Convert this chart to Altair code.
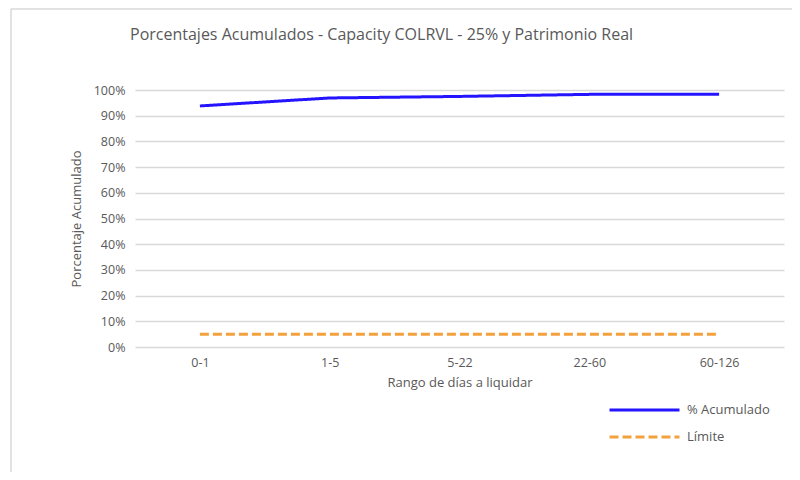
import altair as alt
import pandas as pd

categories = ["0-1", "1-5", "5-22", "22-60", "60-126"]
acumulado = [0.938, 0.969, 0.975, 0.983, 0.983]
limite = [0.05, 0.05, 0.05, 0.05, 0.05]
series_names = ["% Acumulado", "Límite"]

rows = []
for c, a, l in zip(categories, acumulado, limite):
    rows.append({"rango": c, "valor": a, "serie": series_names[0]})
    rows.append({"rango": c, "valor": l, "serie": series_names[1]})
df = pd.DataFrame(rows)

font = "Open Sans"
gray = "#595959"

legend_cfg = dict(title=None, orient="none", legendX=473, legendY=312,
                  symbolType="stroke", symbolSize=4900, clipHeight=16,
                  symbolStrokeWidth=3, rowPadding=11, labelOffset=6,
                  labelFontSize=13, labelColor=gray, labelFont=font)

lines = alt.Chart(df).mark_line(strokeWidth=3).encode(
    x=alt.X("rango:N", sort=categories,
            scale=alt.Scale(paddingInner=0, paddingOuter=0.5),
            axis=alt.Axis(title="Rango de días a liquidar", labelAngle=0,
                          labelPadding=9, titlePadding=8, ticks=False,
                          domain=False, labelFontSize=12.5, titleFontSize=13,
                          labelColor=gray, titleColor=gray, titleFontWeight="normal",
                          labelFont=font, titleFont=font)),
    y=alt.Y("valor:Q", scale=alt.Scale(domain=[0, 1]),
            axis=alt.Axis(title="Porcentaje Acumulado", format=".0%",
                          values=[i / 10 for i in range(11)], labelOverlap=False,
                          labelPadding=10, titlePadding=10, ticks=False, domain=False,
                          gridColor="#d9d9d9", gridWidth=1.3,
                          labelFontSize=12.5, titleFontSize=13, labelColor=gray,
                          titleColor=gray, titleFontWeight="normal",
                          labelFont=font, titleFont=font)),
    color=alt.Color("serie:N", scale=alt.Scale(domain=series_names, range=["#2414FF", "#F2A13D"]),
                    legend=alt.Legend(**legend_cfg)),
    strokeDash=alt.StrokeDash("serie:N", scale=alt.Scale(domain=series_names, range=[[1, 0], [9, 4]]),
                              legend=alt.Legend(**legend_cfg)),
)

# chart frame (decoration, like the spreadsheet's chart border)
frame_df = pd.DataFrame({"k": [0]})
frame_left = alt.Chart(frame_df).mark_rule(color="#d9d9d9", strokeWidth=1.5).encode(
    x=alt.value(-124), y=alt.value(-81), y2=alt.value(420))
frame_top = alt.Chart(frame_df).mark_rule(color="#d9d9d9", strokeWidth=1.5).encode(
    x=alt.value(-124), x2=alt.value(700), y=alt.value(-81))

chart = alt.layer(frame_left, frame_top, lines).properties(
    width=649, height=257,
    title=alt.TitleParams("Porcentajes Acumulados - Capacity COLRVL - 25% y Patrimonio Real",
                          anchor="start", frame="group", dx=-5, offset=-35, fontSize=16, font=font,
                          color=gray, fontWeight="normal"),
    autosize=alt.AutoSizeParams(type="none"),
    padding={"left": 127, "top": 82, "right": 8, "bottom": 125},
).configure_view(stroke=None)

chart.save("out.html", embed_options={"renderer": "svg", "actions": False})
